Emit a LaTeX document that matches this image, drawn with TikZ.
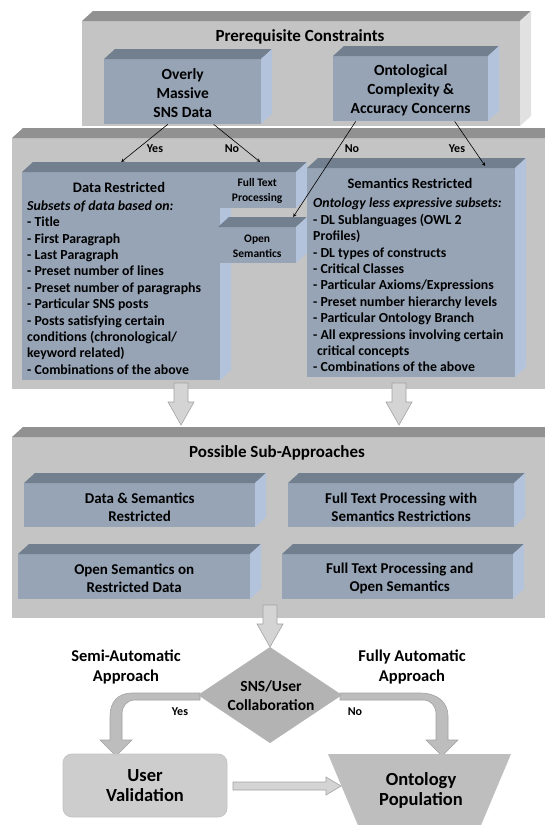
\documentclass[tikz,border=0pt]{standalone}
\usepackage{fontspec}
\setmainfont{Carlito}

\definecolor{greyfront}{HTML}{C4C4C4}
\definecolor{greytop}{HTML}{919191}
\definecolor{greyside}{HTML}{E1E1E1}
\definecolor{bluefront}{HTML}{96A4B6}
\definecolor{bluetop}{HTML}{717F8F}
\definecolor{blueside}{HTML}{B3C3DB}
\definecolor{arrowfill}{HTML}{D4D4D4}
\definecolor{arrowline}{HTML}{A3A3A3}
\definecolor{bentfill}{HTML}{BDBDBD}
\definecolor{decisiongrey}{HTML}{B3B3B3}
\definecolor{popgrey}{HTML}{BEBEBE}

% cube: name, colour set, front face corners (x0,y0) (x1,y1)
\newcommand{\cube}[6]{%
  \fill[#2front] (#3,#4) rectangle (#5,#6);
  \fill[#2top] (#3,#4) -- ++(11,-10) -- (#5+11,#4-10) -- (#5,#4) -- cycle;
  \fill[#2side] (#5,#4) -- (#5+11,#4-10) -- (#5+11,#6-10) -- (#5,#6) -- cycle;
  \node[minimum width=#5-#3, minimum height=#6-#4, anchor=north west] (#1) at (#3,#4) {};
}
% grey block arrow pointing down: x, top, tip
\newcommand{\blockdown}[3]{%
  \draw[blockarrow] (#1-7,#2) -- (#1-7,#3-23) -- (#1-13,#3-23) -- (#1,#3)
    -- (#1+13,#3-23) -- (#1+7,#3-23) -- (#1+7,#2) -- cycle;
}

\begin{document}
\begin{tikzpicture}[x=1pt,y=-1pt,
  every node/.style={inner sep=0pt, text=black},
  heading/.style={font=\bfseries\fontsize{17}{20}\selectfont},
  boxtext/.style={font=\bfseries\fontsize{15.5}{19}\selectfont, align=center},
  labeltext/.style={font=\bfseries\fontsize{16.5}{19.5}\selectfont, align=center},
  subtext/.style={font=\bfseries\fontsize{15}{18}\selectfont, align=center},
  smalltext/.style={font=\bfseries\fontsize{11.5}{15}\selectfont, align=center},
  boxtitle/.style={font=\bfseries\fontsize{14.5}{17}\selectfont},
  listtext/.style={font=\bfseries\fontsize{13.8}{16.4}\selectfont, align=left, anchor=north west},
  answer/.style={font=\bfseries\fontsize{12}{14}\selectfont},
  bigtext/.style={font=\bfseries\fontsize{18.5}{20}\selectfont, align=center},
  link/.style={-stealth, line width=.6pt},
  blockarrow/.style={fill=arrowfill, draw=arrowline, line width=.6pt},
  bentarrow/.style={fill=bentfill, draw=arrowline, line width=.6pt}]
\useasboundingbox (0,0) rectangle (545,825);
\fill[white] (0,0) rectangle (545,825);

% prerequisite constraints
\cube{prereq}{grey}{82}{21}{520}{126}
\node[heading] (prereqtitle) at (300,37) {Prerequisite Constraints};
\cube{overly}{blue}{104}{59}{261}{124}
\node[boxtext] (overlytxt) at ([yshift=-1]overly) {Overly\\Massive\\SNS Data};
\cube{onto}{blue}{333}{56}{488}{121}
\node[boxtext] (ontotxt) at ([yshift=-1.5]onto) {Ontological\\Complexity \&\\Accuracy Concerns};

% restrictions
\cube{restr}{grey}{12}{138}{548}{389}
\cube{datar}{blue}{22}{172}{220}{380}
\node[boxtitle] (datartitle) at (119,187) {Data Restricted};
\node[listtext] (datarlist) at (27,200.5) {\textit{Subsets of data based on:}\\
  - Title\\- First Paragraph\\- Last Paragraph\\- Preset number of lines\\
  - Preset number of paragraphs\\- Particular SNS posts\\
  - Posts satisfying certain\\conditions (chronological/\\keyword related)\\
  - Combinations of the above};
\cube{fulltext}{blue}{218}{172}{296}{208}
\node[smalltext] (fulltexttxt) at ([yshift=-1]fulltext) {Full Text\\Processing};
\cube{opensem}{blue}{218}{227}{296}{263}
\node[smalltext] (opensemtxt) at ([yshift=-1.5]opensem) {Open\\Semantics};
\cube{semr}{blue}{307}{168}{515}{377}
\node[boxtitle] (semrtitle) at (410,183) {Semantics Restricted};
\node[listtext] (semrlist) at (313,198) {\textit{Ontology less expressive subsets:}\\
  - DL Sublanguages (OWL 2\\Profiles)\\- DL types of constructs\\- Critical Classes\\
  - Particular Axioms/Expressions\\- Preset number hierarchy levels\\
  - Particular Ontology Branch\\- All expressions involving certain\\
  \hspace{4pt}critical concepts\\- Combinations of the above};

\draw[link] ([xshift=-15]overly.south) -- ([yshift=10]datar.north);
\draw[link] ([xshift=31]overly.south) -- ([xshift=3,yshift=10]fulltext.north);
\draw[link] ([xshift=-55]onto.south) -- ([xshift=36,yshift=10]opensem.north);
\draw[link] ([xshift=44]onto.south) -- ([xshift=74,yshift=2]semr.north);
\node[answer] (yes1) at (155,149) {Yes};
\node[answer] (no1) at (232,149) {No};
\node[answer] (no2) at (352,149) {No};
\node[answer] (yes2) at (457,149) {Yes};

% sub-approaches
\cube{subapp}{grey}{12}{437}{548}{618}
\node[heading] (subapptitle) at (277,453) {Possible Sub-Approaches};
\cube{datasem}{blue}{24}{483}{255}{527}
\node[subtext] (datasemtxt) at ([yshift=-2]datasem) {Data \& Semantics\\Restricted};
\cube{fullsemr}{blue}{288}{483}{514}{527}
\node[subtext] (fullsemrtxt) at ([yshift=-2]fullsemr) {Full Text Processing with\\Semantics Restrictions};
\cube{openrestr}{blue}{18}{554}{250}{599}
\node[subtext] (openrestrtxt) at ([yshift=-2]openrestr) {Open Semantics on\\Restricted Data};
\cube{fullopen}{blue}{282}{554}{513}{599}
\node[subtext] (fullopentxt) at ([xshift=2,yshift=-2]fullopen) {Full Text Processing and\\Open Semantics};

\blockdown{181}{383}{425}
\blockdown{399}{383}{425}
\blockdown{270}{605}{647}

% decision
\draw[bentarrow] (200,693) -- (132,693) .. controls (118,693) and (110,702) .. (110,716)
  -- (110,740) -- (100,740) -- (116,756) -- (132,740) -- (122,740) -- (122,714)
  .. controls (122,706) and (127,700) .. (135,700) -- (200,700) -- cycle;
\draw[bentarrow] (340,693) -- (420,693) .. controls (437,693) and (448,702) .. (448,716)
  -- (448,740) -- (458,740) -- (442,756) -- (426,740) -- (436,740) -- (436,714)
  .. controls (436,706) and (431,700) .. (423,700) -- (340,700) -- cycle;
\fill[decisiongrey] (270,647) coordinate (dtop) -- (342,695) coordinate (dright)
  -- (270,743) coordinate (dbottom) -- (198,695) coordinate (dleft) -- cycle;
\node[boxtext] (collab) at (271,696) {SNS/User\\Collaboration};
\node[labeltext] (semiauto) at (126,667) {Semi-Automatic\\Approach};
\node[labeltext] (fullauto) at (412,667) {Fully Automatic\\Approach};
\node[answer] (yes3) at (180,712) {Yes};
\node[answer] (no3) at (355,712) {No};

% results
\node[bigtext, fill=greyfront!85!white, draw=greyfront, line width=.8pt, rounded corners=9pt,
  minimum width=164, minimum height=63] (uv) at (145,785.5) {User\\Validation};
\fill[popgrey] (328,754) -- (511,754) -- (479,830) -- (360,830) -- cycle;
\node[bigtext] (pop) at (421,790) {Ontology\\Population};
\draw[blockarrow] (233,782) -- (326,782) -- (326,777) -- (341,786) -- (326,795)
  -- (326,790) -- (233,790) -- cycle;
\end{tikzpicture}
\end{document}
